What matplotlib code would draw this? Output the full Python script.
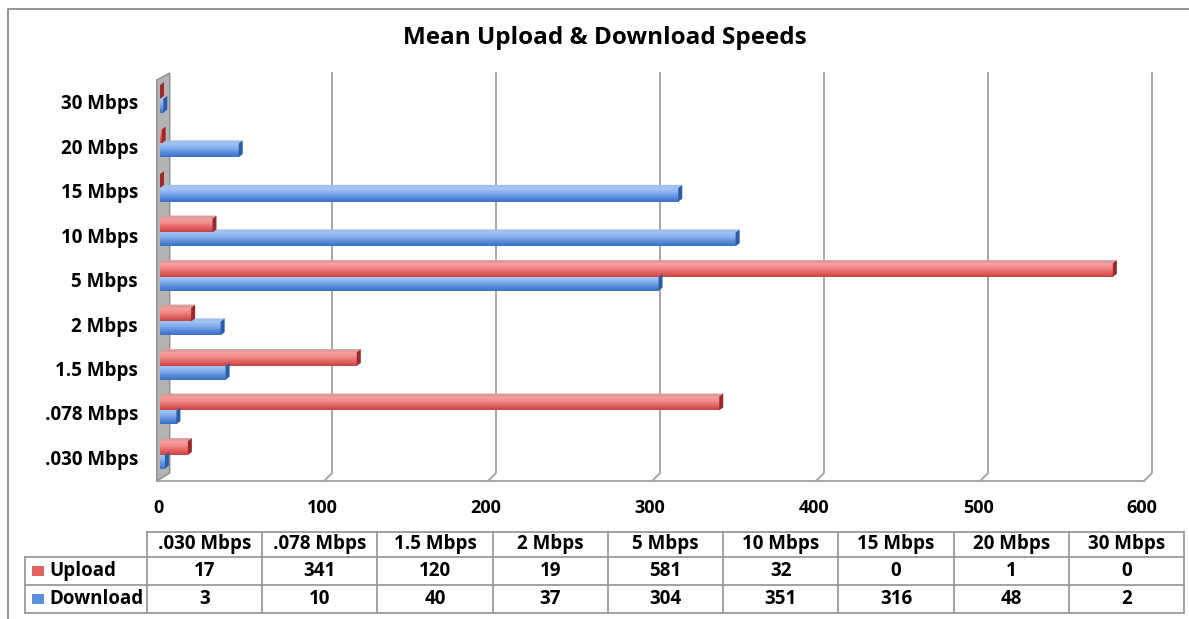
import numpy as np
import matplotlib.pyplot as plt
from matplotlib.patches import Polygon, Rectangle
from matplotlib.colors import LinearSegmentedColormap
from matplotlib.lines import Line2D

plt.rcParams['font.family'] = ['Open Sans', 'DejaVu Sans']
plt.rcParams['font.weight'] = 'bold'

speeds = ['.030 Mbps', '.078 Mbps', '1.5 Mbps', '2 Mbps', '5 Mbps',
          '10 Mbps', '15 Mbps', '20 Mbps', '30 Mbps']
upload = [17, 341, 120, 19, 581, 32, 0, 1, 0]
download = [3, 10, 40, 37, 304, 351, 316, 48, 2]
x_ticks = [0, 100, 200, 300, 400, 500, 600]

W, H = 1189, 619
fig = plt.figure(figsize=(W / 100, H / 100), dpi=100)


def fx(px):
    return px / W


def fy(py):
    return 1 - py / H


# plot area: x 0..600 over 160..1144 px, floor at 481 px, top at 73 px
ax = fig.add_axes([fx(160), fy(481), fx(1144) - fx(160), fy(73) - fy(481)])
ymin, ymax = -0.472, 8.697
ax.set_xlim(0, 600)
ax.set_ylim(ymin, ymax)
ax.axis('off')

sx = 984 / 600          # px per x unit
sy = 408 / (ymax - ymin)  # px per y unit
dxd, dyd = 8 / sx, 8 / sy  # depth of the back wall
grid_c = '#a6a6a6'

# back wall grid lines with their floor diagonals
for t in x_ticks[1:]:
    ax.add_line(Line2D([t + dxd, t + dxd, t], [ymax, ymin + dyd, ymin],
                       color=grid_c, lw=1.4, clip_on=False, zorder=1))

# floor edge
ax.add_line(Line2D([-2, 600], [ymin, ymin], color=grid_c, lw=1.4,
                   clip_on=False, zorder=1))

# left side wall
wall = Polygon([(-2, ymin), (-2, ymax - 7 / sy), (-2 + 13 / sx, ymax),
                (-2 + 13 / sx, ymin + dyd)], closed=True,
               facecolor='#b3b3b3', edgecolor='#8c8c8c', lw=1,
               clip_on=False, zorder=2)
ax.add_patch(wall)

red_cmap = LinearSegmentedColormap.from_list(
    'red', ['#c84444', '#e46464', '#f38a8a', '#f7a4a4'])
blue_cmap = LinearSegmentedColormap.from_list(
    'blue', ['#3c70c4', '#5a8ddc', '#86b0ee', '#a4c6f6'])
grad = np.linspace(1, 0, 40).reshape(-1, 1)

bar_h = 0.31
cap_dx, cap_dy = 4 / sx, 3 / sy


def draw_bars(values, offset, cmap, cap_c, top_c):
    for i, v in enumerate(values):
        y0 = i + offset - bar_h / 2
        y1 = y0 + bar_h
        if v > 0:
            ax.imshow(grad, extent=[0, v, y0, y1], cmap=cmap, aspect='auto',
                      interpolation='bicubic', zorder=3)
            ax.add_patch(Polygon([(0, y1), (v, y1), (v + cap_dx, y1 + cap_dy),
                                  (cap_dx, y1 + cap_dy)], closed=True,
                                 facecolor=top_c, edgecolor='none', zorder=3))
        ax.add_patch(Polygon([(v, y0), (v + cap_dx, y0 + cap_dy),
                              (v + cap_dx, y1 + cap_dy), (v, y1)], closed=True,
                             facecolor=cap_c, edgecolor='none', zorder=4))


draw_bars(download, -0.04, blue_cmap, '#2d5ca6', '#9fbfec')
draw_bars(upload, 0.27, red_cmap, '#9a2a2a', '#dc9a9a')
ax.set_xlim(0, 600)
ax.set_ylim(ymin, ymax)

# axis labels
for t in x_ticks:
    ax.text(t - 2 / sx, ymin - 27 / sy, str(t), ha='center', va='center',
            fontsize=13, clip_on=False)
for i, s in enumerate(speeds):
    ax.text(-22 / sx, i, s, ha='right', va='center', fontsize=13.5,
            clip_on=False)

fig.text(fx(605), fy(38), 'Mean Upload & Download Speeds', ha='center',
         va='center', fontsize=17.5)

# data table
tab_c = '#9a9a9a'
col0, col_end = 147, 1184
colw = (col_end - col0) / len(speeds)
rows = [532, 557, 585, 613]
lab_left = 25
fs_tab = 13.5


def fline(xs, ys):
    fig.add_artist(Line2D([fx(x) for x in xs], [fy(y) for y in ys],
                          color=tab_c, lw=1.3))


fline([col0, col_end], [rows[0], rows[0]])
for r in rows[1:]:
    fline([lab_left, col_end], [r, r])
fline([lab_left, lab_left], [rows[1], rows[3]])
for k in range(len(speeds) + 1):
    fline([col0 + k * colw] * 2, [rows[0], rows[3]])

for k, s in enumerate(speeds):
    cx = col0 + (k + 0.5) * colw
    fig.text(fx(cx), fy((rows[0] + rows[1]) / 2), s, ha='center',
             va='center', fontsize=fs_tab)
    fig.text(fx(cx), fy((rows[1] + rows[2]) / 2), str(upload[k]),
             ha='center', va='center', fontsize=fs_tab)
    fig.text(fx(cx), fy((rows[2] + rows[3]) / 2), str(download[k]),
             ha='center', va='center', fontsize=fs_tab)

for name, color, (ra, rb) in [('Upload', '#e06262', rows[1:3]),
                              ('Download', '#5b8edb', rows[2:4])]:
    cy = (ra + rb) / 2
    fig.add_artist(Rectangle((fx(32), fy(cy + 5)), fx(12), 10 / H,
                             facecolor=color, edgecolor='none'))
    fig.text(fx(49), fy(cy), name, ha='left', va='center', fontsize=fs_tab)

# chart border
fig.add_artist(Line2D([fx(8), fx(8), fx(W)], [0, fy(9), fy(9)],
                      color='#8a8a8a', lw=1.3))

fig.savefig('out.png', dpi=100)
